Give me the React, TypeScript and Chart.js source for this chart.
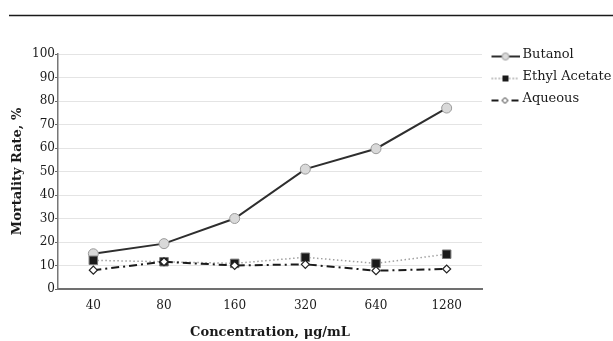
import React, { useEffect, useRef } from "react";
import { Chart, registerables } from "chart.js";

Chart.register(...registerables);

const categories = ["40", "80", "160", "320", "640", "1280"];
const butanol = [15, 19.3, 30, 51, 59.7, 77];
const ethylAcetate = [12.2, 11.6, 10.9, 13.5, 10.9, 14.8];
const aqueous = [8, 11.6, 10, 10.5, 7.8, 8.5];
const seriesNames = ["Butanol", "Ethyl Acetate", "Aqueous"];
const yTitle = "Mortality Rate, %";
const xTitle = "Concentration, \u03bcg/mL";

const FONT = "'DejaVu Serif', serif";

function makeIcon(kind: number): HTMLCanvasElement {
  const c = document.createElement("canvas");
  c.width = 32;
  c.height = 18;
  const g = c.getContext("2d")!;
  const y = 11;
  if (kind === 0) {
    g.strokeStyle = "#2e2e2e";
    g.lineWidth = 2;
    g.beginPath();
    g.moveTo(4, y);
    g.lineTo(32, y);
    g.stroke();
    g.beginPath();
    g.arc(18, y, 3.5, 0, Math.PI * 2);
    g.fillStyle = "#dcdcdc";
    g.fill();
    g.strokeStyle = "#999";
    g.lineWidth = 1;
    g.stroke();
  } else if (kind === 1) {
    g.strokeStyle = "#9a9a9a";
    g.lineWidth = 1.5;
    g.setLineDash([1.5, 2]);
    g.beginPath();
    g.moveTo(4, y);
    g.lineTo(32, y);
    g.stroke();
    g.setLineDash([]);
    g.fillStyle = "#1a1a1a";
    g.fillRect(15, y - 3, 6, 6);
  } else {
    g.strokeStyle = "#1a1a1a";
    g.lineWidth = 2;
    g.beginPath();
    g.moveTo(4, y);
    g.lineTo(11, y);
    g.moveTo(24, y);
    g.lineTo(31, y);
    g.stroke();
    g.beginPath();
    g.moveTo(14.5, y);
    g.lineTo(17.5, y - 3);
    g.lineTo(20.5, y);
    g.lineTo(17.5, y + 3);
    g.closePath();
    g.fillStyle = "#fff";
    g.fill();
    g.lineWidth = 1;
    g.stroke();
  }
  return c;
}

const topRule = {
  id: "topRule",
  beforeDraw(chart: any) {
    const ctx = chart.ctx;
    ctx.save();
    ctx.strokeStyle = "#1a1a1a";
    ctx.lineWidth = 1.5;
    ctx.beginPath();
    ctx.moveTo(9, 15.5);
    ctx.lineTo(613, 15.5);
    ctx.stroke();
    ctx.restore();
  },
};

export default function App() {
  const ref = useRef<HTMLCanvasElement>(null);

  useEffect(() => {
    if (!ref.current) return;
    const icons = [makeIcon(0), makeIcon(1), makeIcon(2)];
    const chart = new Chart(ref.current, {
      type: "line",
      data: {
        labels: categories,
        datasets: [
          {
            label: seriesNames[0],
            data: butanol,
            order: 2,
            borderColor: "#2e2e2e",
            borderWidth: 2,
            pointStyle: "circle",
            pointRadius: 5,
            pointBackgroundColor: "#d9d9d9",
            pointBorderColor: "#9a9a9a",
            pointBorderWidth: 1,
            tension: 0,
          },
          {
            label: seriesNames[1],
            data: ethylAcetate,
            order: 1,
            borderColor: "#a0a0a0",
            borderWidth: 1.5,
            borderDash: [1.5, 2.5],
            pointStyle: "rect",
            pointRadius: 6,
            pointBackgroundColor: "#1a1a1a",
            pointBorderColor: "#777",
            pointBorderWidth: 1,
            tension: 0,
          },
          {
            label: seriesNames[2],
            data: aqueous,
            order: 0,
            borderColor: "#1a1a1a",
            borderWidth: 2,
            borderDash: [8, 4, 2, 4],
            pointStyle: "rectRot",
            pointRadius: 4,
            pointBackgroundColor: "#ffffff",
            pointBorderColor: "#222",
            pointBorderWidth: 1.2,
            tension: 0,
          },
        ],
      },
      options: {
        responsive: false,
        animation: false,
        devicePixelRatio: 1,
        layout: { padding: { top: 39, left: 0, right: 0, bottom: 0 } },
        font: { family: FONT },
        color: "#1a1a1a",
        plugins: {
          tooltip: { enabled: false },
          title: {
            display: true,
            text: " ",
            position: "top",
            fullSize: false,
            font: { size: 10, family: FONT },
            padding: { top: 0, bottom: 3 },
          },
          legend: {
            display: true,
            position: "right",
            align: "start",
            maxWidth: 131,
            labels: {
              usePointStyle: true,
              pointStyleWidth: 25,
              boxHeight: 12,
              padding: 9,
              color: "#1a1a1a",
              font: { family: FONT, size: 13 },
              generateLabels: () =>
                seriesNames.map((name, i) => ({
                  text: name,
                  pointStyle: icons[i],
                  datasetIndex: i,
                  fillStyle: "rgba(0,0,0,0)",
                  strokeStyle: "rgba(0,0,0,0)",
                  lineWidth: 0,
                  hidden: false,
                  fontColor: "#1a1a1a",
                })),
            },
          },
        },
        scales: {
          x: {
            type: "category",
            offset: true,
            grid: { display: false, drawTicks: false },
            border: { display: true, color: "#707070", width: 2 },
            ticks: {
              color: "#1a1a1a",
              padding: 10,
              font: { family: FONT, size: 12 },
              maxRotation: 0,
            },
            title: {
              display: true,
              text: xTitle,
              color: "#1a1a1a",
              font: { family: FONT, size: 13, weight: "bold" },
              padding: { top: 0, bottom: 1 },
            },
            afterFit: (s: any) => {
              s.height = 52;
            },
          },
          y: {
            min: 0,
            max: 100,
            grid: {
              color: "#e4e4e4",
              lineWidth: 1,
              tickLength: 3,
              tickColor: "#666",
              drawTicks: true,
            },
            border: { display: true, color: "#777", width: 1.5 },
            ticks: {
              stepSize: 10,
              padding: 0,
              color: "#1a1a1a",
              font: { family: FONT, size: 12 },
            },
            title: {
              display: true,
              text: yTitle,
              color: "#1a1a1a",
              font: { family: FONT, size: 13, weight: "bold" },
              padding: { top: 10, bottom: 0 },
            },
            afterFit: (s: any) => {
              s.width = 58;
            },
          },
        },
      },
      plugins: [topRule],
    } as any);
    return () => chart.destroy();
  }, []);

  return (
    <div style={{ position: "fixed", left: 0, top: 0, width: 613, height: 341, background: "#fff" }}>
      <canvas ref={ref} width={613} height={341} style={{ display: "block" }} />
    </div>
  );
}
